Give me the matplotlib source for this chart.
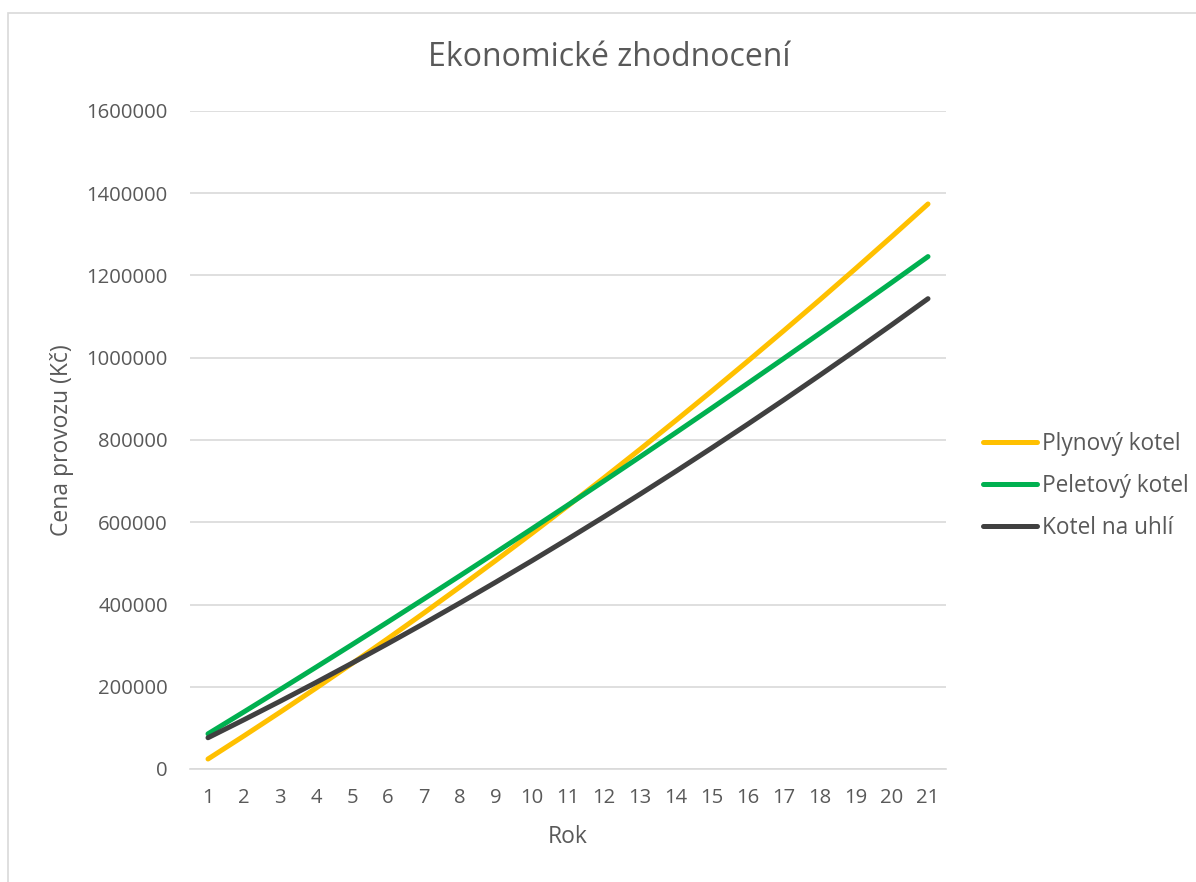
import matplotlib.pyplot as plt
import matplotlib as mpl
from matplotlib.patches import Rectangle

mpl.rcParams['font.family'] = ['Open Sans', 'DejaVu Sans']

roky = list(range(1, 22))
plyn = [24300, 80600, 138000, 196600, 256400, 317400, 379500, 442900, 507400, 573100,
        640000, 708100, 777300, 847800, 919400, 992200, 1066200, 1141300, 1217700, 1295200,
        1373900]
pelety = [85500, 139000, 193000, 247500, 302400, 357800, 413700, 470100, 526900, 584200,
          642000, 700300, 759000, 818200, 877900, 938100, 998700, 1059800, 1121400, 1183500,
          1246000]
uhli = [76000, 119800, 164600, 210400, 257300, 305100, 353900, 403800, 454700, 506500,
        559400, 613300, 668200, 724100, 781000, 838900, 897800, 957800, 1018700, 1080600,
        1143600]
y_ticks = [0, 200000, 400000, 600000, 800000, 1000000, 1200000, 1400000, 1600000]

W, H = 1196, 882
fig = plt.figure(figsize=(W / 100, H / 100), dpi=100)
# light chart border (runs off the right and bottom edge)
fig.patches.append(Rectangle((8 / W, -0.5), 1.2, 1.5 - 13 / H, transform=fig.transFigure,
                             fill=False, edgecolor='#d9d9d9', linewidth=1.2))

ax = fig.add_axes([190 / W, 113 / H, 756 / W, 658 / H])
grey = '#595959'
ax.plot(roky, plyn, color='#FFC000', lw=3.6, solid_capstyle='round', label='Plynový kotel')
ax.plot(roky, pelety, color='#00B050', lw=3.6, solid_capstyle='round', label='Peletový kotel')
ax.plot(roky, uhli, color='#404040', lw=3.6, solid_capstyle='round', label='Kotel na uhlí')

ax.set_xlim(0.5, 21.5)
ax.set_ylim(0, 1600000)
ax.set_xticks(roky)
ax.set_yticks(y_ticks)
ax.set_yticklabels([str(v) for v in y_ticks])
ax.grid(axis='y', color='#d9d9d9', lw=1.2)
ax.set_axisbelow(True)
for s in ['top', 'right', 'left']:
    ax.spines[s].set_visible(False)
ax.spines['bottom'].set_color('#d9d9d9')
ax.spines['bottom'].set_linewidth(1.2)
ax.tick_params(axis='both', length=0, labelsize=14.6, colors=grey, pad=14)
ax.tick_params(axis='y', pad=16)

ax.set_xlabel('Rok', fontsize=16.5, color=grey, labelpad=12)
ax.set_ylabel('Cena provozu (Kč)', fontsize=16.5, color=grey, labelpad=9)
fig.text(609 / W, 1 - 58 / H, 'Ekonomické zhodnocení', fontsize=23, color=grey,
         ha='center', va='center')

fig.legend(loc='center left', bbox_to_anchor=(983 / W, 1 - 486 / H), frameon=False,
           fontsize=16.3, labelcolor=grey, handlelength=2.4, handletextpad=0.2,
           labelspacing=0.8, borderaxespad=0, borderpad=0)

fig.savefig('out.png', dpi=100)
